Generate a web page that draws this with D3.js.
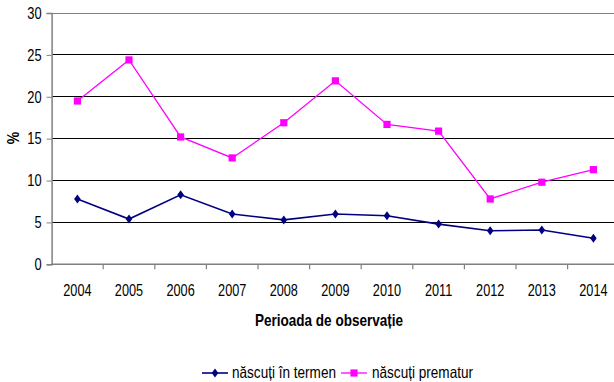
<!DOCTYPE html>
<html><head><meta charset="utf-8">
<script src="https://cdn.jsdelivr.net/npm/d3@7"></script>
<style>
html,body{margin:0;padding:0;background:#fff;}
svg text{font-family:"Liberation Sans Narrow","Arial Narrow","Liberation Sans",Arial,sans-serif;}
</style></head>
<body><svg id="c" width="614" height="382"></svg>
<script>
const years = ["2004","2005","2006","2007","2008","2009","2010","2011","2012","2013","2014"];
const inTermen = [7.8,5.4,8.3,6.0,5.3,6.0,5.8,4.8,4.0,4.1,3.1];
const prematur = [19.5,24.4,15.2,12.7,16.9,21.9,16.7,15.9,7.8,9.8,11.3];
const yTicks = [0,5,10,15,20,25,30];
const seriesNames = ["născuți în termen","născuți prematur"];
const xTitle = "Perioada de observație";
const yTitle = "%";

const svg = d3.select("#c");
const x = d3.scaleBand().domain(years).range([51.6,619.2]).paddingInner(0).paddingOuter(0);
const y = d3.scaleLinear().domain([0,30]).range([264.3,13]);

function squeeze(sel, factor, target){
  sel.each(function(){
    const w = this.getComputedTextLength();
    const t = target != null ? target : w*factor;
    d3.select(this).attr("textLength",t).attr("lengthAdjust","spacingAndGlyphs");
  });
}

// gridlines
svg.append("g").selectAll("line").data(yTicks.filter(d=>d>0)).join("line")
  .attr("x1",51.6).attr("x2",620).attr("y1",d=>y(d)).attr("y2",d=>y(d))
  .attr("stroke",d=>d===30?"#808080":"#000").attr("stroke-width",1)
  .attr("shape-rendering","crispEdges");

// y axis
const yAxis = svg.append("g").attr("transform","translate(51.6,0)")
  .call(d3.axisLeft(y).tickValues(yTicks).tickSize(5).tickPadding(5));
yAxis.select(".domain").attr("stroke","#808080").attr("stroke-width",1.5);
yAxis.selectAll(".tick line").attr("stroke","#808080");
yAxis.selectAll(".tick text").attr("font-size","16.5px").attr("fill","#000")
  .attr("font-family",null).call(squeeze,0.78);

// x axis
const xAxis = svg.append("g").attr("transform","translate(0,264.3)")
  .call(d3.axisBottom(x).tickSize(0).tickPadding(20));
xAxis.select(".domain").attr("d","M51.6,0H620").attr("stroke","#808080").attr("stroke-width",1.5);
xAxis.selectAll(".tick text").attr("font-size","16.5px").attr("fill","#000").attr("font-family",null)
  .call(squeeze,0.77);
// category boundary ticks
xAxis.append("g").selectAll("line").data(years.slice(1)).join("line")
  .attr("x1",d=>x(d)).attr("x2",d=>x(d)).attr("y1",0).attr("y2",5)
  .attr("stroke","#808080").attr("stroke-width",1.2);

// axis titles
svg.append("text").attr("x",329).attr("y",326).attr("text-anchor","middle")
  .attr("font-size","16.5px").attr("font-weight","bold").text(xTitle).call(squeeze,null,148);
svg.append("text").attr("transform","translate(19,138) rotate(-90)").attr("text-anchor","middle")
  .attr("font-size","16.5px").attr("font-weight","bold").text(yTitle).call(squeeze,0.85);

const cx = d => x(d)+x.bandwidth()/2;
const line = d3.line().x((d,i)=>cx(years[i])).y(d=>y(d));

const diamond = "M0,-4.5L3.3,0L0,4.5L-3.3,0Z";
const square = "M-3.6,-3.6H3.6V3.6H-3.6Z";

// series
svg.append("path").datum(inTermen).attr("d",line).attr("fill","none").attr("stroke","#000080").attr("stroke-width",1.6);
svg.append("g").selectAll("path").data(inTermen).join("path")
  .attr("transform",(d,i)=>`translate(${cx(years[i])},${y(d)})`).attr("d",diamond).attr("fill","#000080");
svg.append("path").datum(prematur).attr("d",line).attr("fill","none").attr("stroke","#FF00FF").attr("stroke-width",1.3);
svg.append("g").selectAll("path").data(prematur).join("path")
  .attr("transform",(d,i)=>`translate(${cx(years[i])},${y(d)})`).attr("d",square).attr("fill","#FF00FF");

// legend
const leg = svg.append("g");
const legItems = [
  {name:seriesNames[0], color:"#000080", shape:diamond, x1:202, x2:228, tx:232, tw:104, sw:1.6},
  {name:seriesNames[1], color:"#FF00FF", shape:square, x1:341, x2:367, tx:372, tw:101, sw:1.3}
];
legItems.forEach(it=>{
  leg.append("line").attr("x1",it.x1).attr("x2",it.x2).attr("y1",373).attr("y2",373)
    .attr("stroke",it.color).attr("stroke-width",it.sw);
  leg.append("path").attr("transform",`translate(${(it.x1+it.x2)/2},373)`).attr("d",it.shape).attr("fill",it.color);
  leg.append("text").attr("x",it.tx).attr("y",378).attr("font-size","16.5px").text(it.name).call(squeeze,null,it.tw);
});
</script></body></html>
